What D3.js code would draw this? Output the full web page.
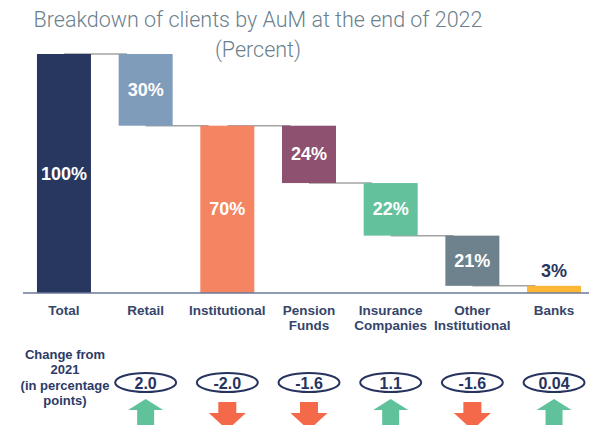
<!DOCTYPE html>
<html>
<head>
<meta charset="utf-8">
<script src="https://cdn.jsdelivr.net/npm/d3@7"></script>
<style>
  body { margin: 0; background: #fff; }
  svg { display: block; }
</style>
</head>
<body>
<svg></svg>
<script>
const size = { w: 589, h: 425 };
const svg = d3.select("svg").attr("width", size.w).attr("height", size.h);

// data
const categories = ["Total", "Retail", "Institutional", "Pension Funds", "Insurance Companies", "Other Institutional", "Banks"];
const labelLines = [["Total"], ["Retail"], ["Institutional"], ["Pension", "Funds"], ["Insurance", "Companies"], ["Other", "Institutional"], ["Banks"]];
const shares = [100, 30, 70, 24, 22, 21, 3];
const kinds = ["total", "part", "subtotal", "part", "part", "part", "part"];
const colors = ["#283760", "#7f9cba", "#f48462", "#8f5170", "#63c29c", "#6e828e", "#fbb735"];
const changeLabels = ["2.0", "-2.0", "-1.6", "1.1", "-1.6", "0.04"];
const changes = [2.0, -2.0, -1.6, 1.1, -1.6, 0.04];

// waterfall bases
let level = 0;
const bars = categories.map(function (c, i) {
	let y0, y1;
	if (kinds[i] === "part") { y1 = level; y0 = level - shares[i]; level = y0; }
	else { y0 = 0; y1 = shares[i]; level = y1; }
	return { cat: c, y0: y0, y1: y1, v: shares[i], color: colors[i], lines: labelLines[i] };
});
// connector level = where the next bar starts
bars.forEach(function (b, i) {
	b.next = (kinds[i] === "part") ? b.y0 : b.y1;
});

const x = d3.scaleBand().domain(categories).range([23, 595]).paddingInner(0.339).paddingOuter(0.171);
const y = d3.scaleLinear().domain([0, 100]).range([293, 54]);

// title
const title = svg.append("g").attr("fill", "#6b7f8e").attr("font-family", "Roboto, sans-serif")
	.attr("font-weight", 300).attr("text-anchor", "middle");
title.append("text").attr("x", 258).attr("y", 27).attr("font-size", 21.5)
	.text("Breakdown of clients by AuM at the end of 2022");
title.append("text").attr("x", 258).attr("y", 57).attr("font-size", 21.5).text("(Percent)");

// connectors
svg.append("g").selectAll("line")
	.data(bars.slice(0, bars.length - 1))
	.join("line")
	.attr("x1", d => x(d.cat) + x.bandwidth() / 2)
	.attr("x2", d => x(d.cat) + x.bandwidth() / 2 + 63)
	.attr("y1", d => y(d.next))
	.attr("y2", d => y(d.next))
	.attr("stroke", "#a3a3a3")
	.attr("stroke-width", 1.5);

// bars
svg.append("g").selectAll("rect")
	.data(bars)
	.join("rect")
	.attr("x", d => x(d.cat))
	.attr("width", x.bandwidth())
	.attr("y", d => y(d.y1))
	.attr("height", d => y(d.y0) - y(d.y1))
	.attr("fill", d => d.color);

// bar labels
svg.append("g").attr("font-family", "Liberation Sans, Arial, sans-serif").attr("font-weight", "bold")
	.attr("font-size", 18).attr("text-anchor", "middle")
	.selectAll("text")
	.data(bars)
	.join("text")
	.attr("x", d => x(d.cat) + x.bandwidth() / 2)
	.attr("y", d => d.v < 10 ? y(d.y1) - 9 : (y(d.y0) + y(d.y1)) / 2 + 6)
	.attr("fill", d => d.v < 10 ? "#283760" : "#fff")
	.text(d => d.v + "%");

// baseline
svg.append("line").attr("x1", 23).attr("x2", 589).attr("y1", y(0)).attr("y2", y(0))
	.attr("stroke", "#6b7a9a").attr("stroke-width", 1.5);

// category labels
const cl = svg.append("g").attr("font-family", "Liberation Sans, Arial, sans-serif").attr("font-weight", "bold")
	.attr("font-size", 13.5).attr("fill", "#36456b").attr("text-anchor", "middle")
	.selectAll("text").data(bars).join("text")
	.attr("x", d => x(d.cat) + x.bandwidth() / 2)
	.attr("y", 315);
cl.selectAll("tspan").data(d => d.lines).join("tspan")
	.attr("x", function () { return d3.select(this.parentNode).attr("x"); })
	.attr("dy", (d, i) => i === 0 ? 0 : 14.5)
	.text(d => d);

// change row
const note = svg.append("text").attr("font-family", "Liberation Sans, Arial, sans-serif").attr("font-weight", "bold")
	.attr("font-size", 13).attr("fill", "#2c3a66").attr("text-anchor", "middle").attr("y", 359);
["Change from", "2021", "(in percentage", "points)"].forEach(function (t, i) {
	note.append("tspan").attr("x", 65).attr("dy", i === 0 ? 0 : 15.3).text(t);
});

const changeCats = categories.slice(1);
const cg = svg.append("g").selectAll("g").data(changeCats).join("g")
	.attr("transform", d => "translate(" + (x(d) + x.bandwidth() / 2) + ",0)");
cg.append("ellipse").attr("cx", 0).attr("cy", 382.5).attr("rx", 30.5).attr("ry", 9.5)
	.attr("fill", "#fff").attr("stroke", "#26335e").attr("stroke-width", 2);
cg.append("text").attr("x", 0).attr("y", 388.5).attr("text-anchor", "middle")
	.attr("font-family", "Liberation Sans, Arial, sans-serif").attr("font-weight", "bold")
	.attr("font-size", 16).attr("fill", "#26335e")
	.text((d, i) => changeLabels[i]);
cg.append("path")
	.attr("fill", (d, i) => changes[i] >= 0 ? "#5fc29a" : "#f4694a")
	.attr("d", function (d, i) {
		if (changes[i] >= 0) {
			return "M0,399 L17.5,410 L8.5,410 L8.5,432 L-8.5,432 L-8.5,410 L-17.5,410 Z";
		}
		return "M-9,402 L9,402 L9,413 L18.5,413 L0,430 L-18.5,413 L-9,413 Z";
	});
</script>
</body>
</html>
